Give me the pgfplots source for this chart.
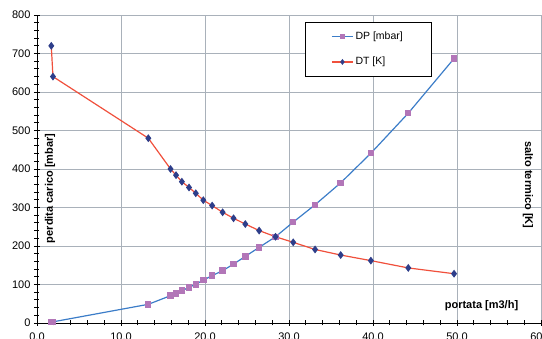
\documentclass[border=0pt]{standalone}
\usepackage{pgfplots}
\pgfplotsset{compat=1.18}
\usepackage{fontspec}
\setmainfont{Liberation Sans}
\definecolor{dpline}{HTML}{3C7DC8}
\definecolor{dpmark}{HTML}{B276B8}
\definecolor{dtline}{HTML}{F0503C}
\definecolor{dtmark}{HTML}{2E3E8A}
\definecolor{gridc}{HTML}{A9B1BA}
\begin{document}
\begin{tikzpicture}
\begin{axis}[name=ax, at={(0,0)}, anchor=south west, scale only axis,
  width=504pt, height=308pt,
  xmin=0, xmax=60, ymin=0, ymax=800,
  xtick={0,10,...,60}, ytick={0,100,...,800},
  minor x tick num=4, minor y tick num=4,
  axis x line*=bottom, axis y line*=left,
  tick align=center, major tick length=6pt, minor tick length=5pt,
  every tick/.style={black, line width=0.8pt},
  grid=major, major grid style={gridc, line width=0.9pt},
  axis line style={black, line width=0.9pt},
  /pgf/number format/assume math mode=true,
  xticklabel style={/pgf/number format/fixed,/pgf/number format/fixed zerofill,/pgf/number format/precision=1, yshift=-3pt},
  tick label style={font=\fontsize{11}{13}\selectfont},
  ylabel={perdita carico [mbar]},
  ylabel style={at={(rel axis cs:0.026,0.437)}, anchor=center, font=\bfseries\fontsize{11}{13}\selectfont},
  xlabel={portata [m3/h]},
  xlabel style={at={(rel axis cs:0.882,0.055)}, anchor=center, font=\bfseries\fontsize{11}{13}\selectfont},
  legend style={at={(rel axis cs:0.532,0.977)}, anchor=north west, draw=black, fill=white,
    font=\fontsize{10.5}{12}\selectfont, inner xsep=26pt, inner ysep=8pt, row sep=12pt,
    cells={anchor=west}},
  legend image code/.code={\draw[mark repeat=2,mark phase=2,#1] plot coordinates {(0pt,0pt) (10.5pt,0pt) (21pt,0pt)};},
  legend image post style={mark size=2pt},
]
\addplot[dpline, line width=1.2pt, mark=square*, mark size=2.6pt,
  mark options={dpmark, draw=dpmark, fill=dpmark}] coordinates {
 (1.7,2) (1.9,3) (13.25,48.5) (15.9,71) (16.55,77) (17.25,84) (18.1,92.5)
 (18.9,100.5) (19.8,111.5) (20.85,123) (22.1,136) (23.4,153) (24.8,173)
 (26.45,196.5) (28.4,224) (30.5,262) (33.1,307) (36.15,364) (39.75,441)
 (44.2,545) (49.65,687)
};
\addlegendentry{DP [mbar]}
\addplot[dtline, line width=1.2pt, mark=diamond*, mark size=3pt,
  mark options={dtmark, draw=dtmark, fill=dtmark}] coordinates {
 (1.7,720) (1.9,640) (13.25,480) (15.9,400) (16.55,384) (17.25,367) (18.1,352)
 (18.9,337) (19.8,319) (20.85,305) (22.1,287.5) (23.4,272) (24.8,257)
 (26.45,240) (28.4,224) (30.5,209.5) (33.1,191) (36.15,176.5) (39.75,162)
 (44.2,143) (49.65,128)
};
\addlegendentry{DT [K]}
\draw[black, line width=0.9pt] (rel axis cs:1,0) -- (rel axis cs:1,1);
\node[rotate=-90, font=\bfseries\fontsize{11}{13}\selectfont] at (rel axis cs:0.974,0.448) {salto termico [K]};
\end{axis}
\pgfresetboundingbox
\useasboundingbox (-37pt,-16pt) rectangle (505pt,323pt);
\end{tikzpicture}
\end{document}
